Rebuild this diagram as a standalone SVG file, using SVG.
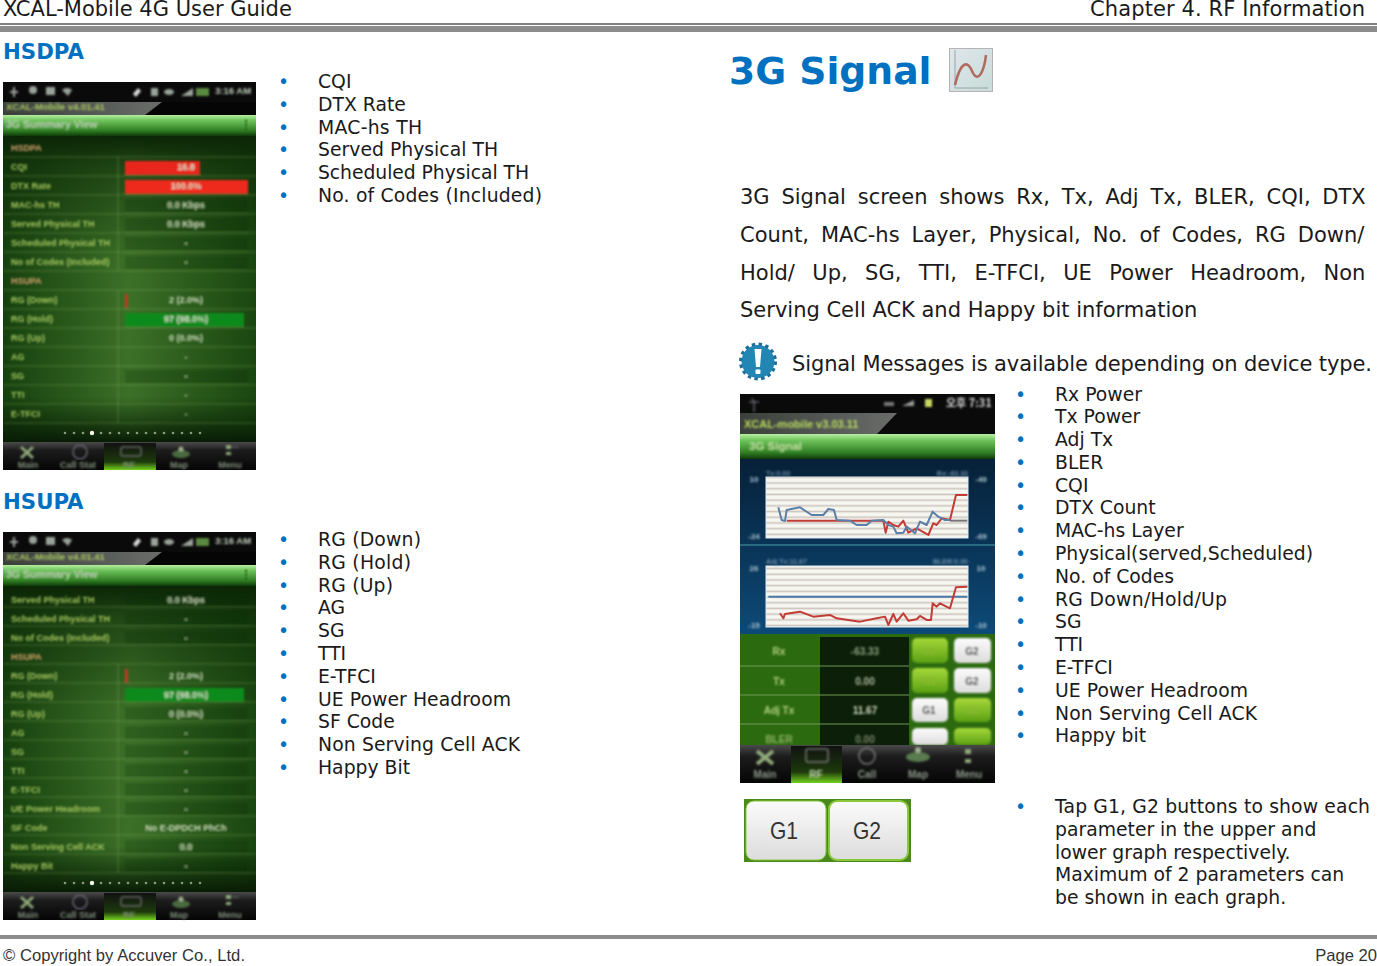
<svg xmlns="http://www.w3.org/2000/svg" width="1377" height="966" viewBox="0 0 1377 966">
<style>
text{font-family:"DejaVu Sans",sans-serif;font-size:18.800px;fill:#1a1a1a}
text.l{font-size:21px}
.h{font-weight:bold;fill:#0070c0}
.b{fill:#0070c0}
text.f{font-family:"Liberation Sans",Arial,sans-serif;font-size:16.600px;fill:#333}
.s text{font-family:"Liberation Sans",Arial,sans-serif;font-size:9px;font-weight:bold;fill:#a8c860}
.s .v{fill:#d4dec4;text-anchor:middle}
.s .o{fill:#d8a070}
.s .w{fill:#c2cfbc}
.s .g{fill:#7f8f7a}
.s .c{text-anchor:middle}
.row{stroke:#8fb86a;stroke-opacity:.35;stroke-width:1;fill:none}
.cell{stroke:#0a2205;stroke-opacity:.22;stroke-width:14;fill:none}
</style>
<defs>
<filter id="soft" x="-5%" y="-5%" width="110%" height="110%"><feGaussianBlur stdDeviation="0.8"/></filter>
<filter id="soft2" x="-5%" y="-5%" width="110%" height="110%"><feGaussianBlur stdDeviation="0.5"/></filter>
<linearGradient id="band" x1="0" y1="0" x2="0" y2="1"><stop offset="0" stop-color="#b6eea0"/><stop offset=".25" stop-color="#6fc45c"/><stop offset=".75" stop-color="#2f7d22"/><stop offset="1" stop-color="#0f3a0a"/></linearGradient>
<linearGradient id="body" x1="0" y1="0" x2="1" y2="0"><stop offset="0" stop-color="#16400e"/><stop offset=".5" stop-color="#3c7028"/><stop offset="1" stop-color="#1a4610"/></linearGradient>
<linearGradient id="shade" x1="0" y1="0" x2="0" y2="1"><stop offset="0" stop-color="#0b2606"/><stop offset=".1" stop-color="#0b2606" stop-opacity=".55"/><stop offset=".4" stop-color="#0b2606" stop-opacity="0"/><stop offset=".85" stop-color="#0b2606" stop-opacity="0"/><stop offset="1" stop-color="#081c05"/></linearGradient>
<linearGradient id="tab" x1="0" y1="0" x2="0" y2="1"><stop offset="0" stop-color="#4a4a4a"/><stop offset=".3" stop-color="#1c1c1c"/><stop offset="1" stop-color="#050505"/></linearGradient>
<linearGradient id="sel" x1="0" y1="0" x2="0" y2="1"><stop offset="0" stop-color="#111"/><stop offset=".7" stop-color="#1d3a0c"/><stop offset="1" stop-color="#74d01e"/></linearGradient>
<linearGradient id="wedge" x1="0" y1="0" x2="1" y2="0"><stop offset="0" stop-color="#3a3f3a"/><stop offset="1" stop-color="#6a6d6a"/></linearGradient>
<linearGradient id="blue" x1="0" y1="0" x2="0" y2="1"><stop offset="0" stop-color="#062038"/><stop offset="1" stop-color="#0d4a78"/></linearGradient>
<linearGradient id="gbtn" x1="0" y1="0" x2="0" y2="1"><stop offset="0" stop-color="#a6d83a"/><stop offset="1" stop-color="#5aa014"/></linearGradient>
<linearGradient id="wbtn" x1="0" y1="0" x2="0" y2="1"><stop offset="0" stop-color="#fbfbfb"/><stop offset="1" stop-color="#dcdcdc"/></linearGradient>
<linearGradient id="icon" x1="0" y1="0" x2="1" y2="1"><stop offset="0" stop-color="#dfe6ec"/><stop offset="1" stop-color="#c8dcd8"/></linearGradient>
<pattern id="stripes" width="10" height="5.700" patternUnits="userSpaceOnUse"><rect width="10" height="5.700" fill="#f7f7f2"/><rect y="3.400" width="10" height="1.700" fill="#cfc6c0"/></pattern>
<g id="shell">
<rect width="253" height="388" fill="#0c2a08"/>
<rect width="253" height="22" fill="#0a0a0a"/>
<rect y="20" width="253" height="13" fill="#050505"/>
<path d="M0 20H159L142 33H0Z" fill="url(#wedge)"/>
<rect y="33" width="253" height="21" fill="url(#band)"/>
<rect y="54" width="253" height="306" fill="url(#body)"/>
<rect y="54" width="253" height="306" fill="url(#shade)"/>
<g fill="#9aa39a" filter="url(#soft)">
<path d="M10 5h2v4h3v2h-3v4h-2v-4h-3v-2h3z"/><circle cx="30" cy="8" r="4"/><rect x="43" y="5" width="9" height="8"/><path d="M59 8a7 7 0 0 1 10 0l-4 6z"/>
<path d="M130 12l5-6 3 3-5 6z" fill="#ddd"/><rect x="148" y="6" width="7" height="8"/><ellipse cx="166" cy="10" rx="5" ry="3"/><path d="M178 14l12-8v8z"/><rect x="193" y="6" width="13" height="8" fill="#5a8a40"/>
</g>
<g filter="url(#soft)"><circle cx="243" cy="39" r="1.300" fill="#2b5a1c"/><circle cx="243" cy="43" r="1.300" fill="#2b5a1c"/><circle cx="243" cy="47" r="1.300" fill="#2b5a1c"/></g>
<rect y="360" width="253" height="28" fill="url(#tab)"/>
<rect x="101" y="361" width="52" height="27" fill="url(#sel)"/>
</g>
<g id="tabs" filter="url(#soft)">
<path d="M18 365l12 11M30 365l-12 11" stroke="#8fa878" stroke-width="3"/>
<circle cx="77" cy="370" r="7" fill="none" stroke="#667" stroke-width="1.500"/>
<rect x="118" y="365" width="20" height="9" rx="2" fill="none" stroke="#666" stroke-width="1.500"/>
<ellipse cx="178" cy="372" rx="9" ry="4" fill="#4a6a40"/><circle cx="178" cy="367" r="2.500" fill="#a0b090"/>
<rect x="223" y="363" width="5" height="4" fill="#8fa878"/><rect x="223" y="370" width="5" height="3" fill="#8fa878"/><path d="M229 365h7" stroke="#666"/>
</g>
<g id="dots" fill="#8a9a80" filter="url(#soft2)"><circle cx="62" r="1.300"/><circle cx="71" r="1.300"/><circle cx="80" r="1.300"/><circle cx="98" r="1.300"/><circle cx="107" r="1.300"/><circle cx="116" r="1.300"/><circle cx="125" r="1.300"/><circle cx="134" r="1.300"/><circle cx="143" r="1.300"/><circle cx="152" r="1.300"/><circle cx="161" r="1.300"/><circle cx="170" r="1.300"/><circle cx="179" r="1.300"/><circle cx="188" r="1.300"/><circle cx="197" r="1.300"/><circle cx="89" r="2.200" fill="#f4f4ea"/></g>
</defs>

<rect width="1377" height="966" fill="#fff"/>

<g id="page-frame">
<rect x="0" y="23" width="1377" height="2" fill="#808080"/>
<rect x="0" y="26" width="1377" height="6" fill="#8c8c8c"/>
<rect x="0" y="935" width="1377" height="4" fill="#8c8c8c"/>
<text class="l" x="3" y="16">XCAL-Mobile 4G User Guide</text>
<text class="l" x="1090" y="16" textLength="275">Chapter 4. RF Information</text>
<text class="f" x="3" y="961" textLength="242">© Copyright by Accuver Co., Ltd.</text>
<text class="f" x="1377" y="961" text-anchor="end">Page 20</text>
</g>

<g id="hsdpa-section">
<text class="h" x="3" y="59" style="font-size:21.300px">HSDPA</text>
<g class="s" transform="translate(3,82)">
<use href="#shell"/>
<g filter="url(#soft)">
<path class="cell" d="M122 124H245M122 143H245M122 162H245M122 181H245M122 295H245"/>
<path class="row" d="M0 75H253M0 94H253M0 113H253M0 132H253M0 151H253M0 170H253M0 189H253M0 208H253M0 227H253M0 246H253M0 265H253M0 284H253M0 303H253M0 322H253M0 341H253M115 75V189M115 208V341"/>
<rect x="122" y="79" width="75" height="14" fill="#e8281c"/>
<rect x="122" y="98" width="123" height="14" fill="#ee2a1a"/>
<rect x="122" y="212" width="3" height="14" fill="#c03a20"/>
<rect x="122" y="231" width="119" height="14" fill="#0d8a1c"/>
<text style="font-size:9.500px" x="3" y="28">XCAL-Mobile v4.01.41</text>
<text x="3" y="46" class="w" style="font-size:10.500px">3G Summary View</text>
<text class="w" x="212" y="12" style="font-size:9.500px">3:16 AM</text>
<text class="o" x="8" y="69">HSDPA</text>
<text x="8" y="88">CQI</text><text class="v" x="183" y="88">16.8</text>
<text x="8" y="107">DTX Rate</text><text class="v" x="183" y="107">100.0%</text>
<text x="8" y="126">MAC-hs TH</text><text class="v" x="183" y="126">0.0 Kbps</text>
<text x="8" y="145">Served Physical TH</text><text class="v" x="183" y="145">0.0 Kbps</text>
<text x="8" y="164">Scheduled Physical TH</text><text class="v" x="183" y="164">-</text>
<text x="8" y="183">No of Codes (Included)</text><text class="v" x="183" y="183">-</text>
<text class="o" x="8" y="202">HSUPA</text>
<text x="8" y="221">RG (Down)</text><text class="v" x="183" y="221">2 (2.0%)</text>
<text x="8" y="240">RG (Hold)</text><text class="v" x="183" y="240">97 (98.0%)</text>
<text x="8" y="259">RG (Up)</text><text class="v" x="183" y="259">0 (0.0%)</text>
<text x="8" y="278">AG</text><text class="v" x="183" y="278">-</text>
<text x="8" y="297">SG</text><text class="v" x="183" y="297">-</text>
<text x="8" y="316">TTI</text><text class="v" x="183" y="316">-</text>
<text x="8" y="335">E-TFCI</text><text class="v" x="183" y="335">-</text>
<text class="g c" x="25" y="386">Main</text><text class="g c" x="75" y="386">Call Stat</text><text class="g c" x="126" y="386">RF</text><text class="g c" x="176" y="386">Map</text><text class="g c" x="227" y="386">Menu</text>
</g>
<use href="#tabs"/>
<use href="#dots" y="351"/>
</g>
<g id="hsdpa-list">
<text class="b" x="278" y="88">•</text><text x="318" y="88">CQI</text>
<text class="b" x="278" y="111">•</text><text x="318" y="111">DTX Rate</text>
<text class="b" x="278" y="134">•</text><text x="318" y="134" textLength="104">MAC-hs TH</text>
<text class="b" x="278" y="156">•</text><text x="318" y="156" textLength="180">Served Physical TH</text>
<text class="b" x="278" y="179">•</text><text x="318" y="179" textLength="211">Scheduled Physical TH</text>
<text class="b" x="278" y="202">•</text><text x="318" y="202" textLength="224">No. of Codes (Included)</text>
</g>
</g>

<g id="hsupa-section">
<text class="h" x="3" y="509" style="font-size:21.300px">HSUPA</text>
<g class="s" transform="translate(3,532)">
<use href="#shell"/>
<g filter="url(#soft)">
<path class="cell" d="M122 68H245M122 87H245M122 106H245M122 182H245M122 201H245M122 220H245M122 239H245M122 258H245M122 277H245M122 315H245M122 334H245"/>
<path class="row" d="M0 75H253M0 94H253M0 113H253M0 132H253M0 151H253M0 170H253M0 189H253M0 208H253M0 227H253M0 246H253M0 265H253M0 284H253M0 303H253M0 322H253M0 341H253M115 132V341"/>
<rect x="122" y="137" width="3" height="14" fill="#c03a20"/>
<rect x="122" y="156" width="119" height="14" fill="#0d8a1c"/>
<text style="font-size:9.500px" x="3" y="28">XCAL-Mobile v4.01.41</text>
<text x="3" y="46" class="w" style="font-size:10.500px">3G Summary View</text>
<text class="w" x="212" y="12" style="font-size:9.500px">3:16 AM</text>
<text x="8" y="71">Served Physical TH</text><text class="v" x="183" y="71">0.0 Kbps</text>
<text x="8" y="90">Scheduled Physical TH</text><text class="v" x="183" y="90">-</text>
<text x="8" y="109">No of Codes (Included)</text><text class="v" x="183" y="109">-</text>
<text class="o" x="8" y="128">HSUPA</text>
<text x="8" y="147">RG (Down)</text><text class="v" x="183" y="147">2 (2.0%)</text>
<text x="8" y="166">RG (Hold)</text><text class="v" x="183" y="166">97 (98.0%)</text>
<text x="8" y="185">RG (Up)</text><text class="v" x="183" y="185">0 (0.0%)</text>
<text x="8" y="204">AG</text><text class="v" x="183" y="204">-</text>
<text x="8" y="223">SG</text><text class="v" x="183" y="223">-</text>
<text x="8" y="242">TTI</text><text class="v" x="183" y="242">-</text>
<text x="8" y="261">E-TFCI</text><text class="v" x="183" y="261">-</text>
<text x="8" y="280">UE Power Headroom</text><text class="v" x="183" y="280">-</text>
<text x="8" y="299">SF Code</text><text class="v" x="183" y="299">No E-DPDCH PhCh</text>
<text x="8" y="318">Non Serving Cell ACK</text><text class="v" x="183" y="318">0.0</text>
<text x="8" y="337">Happy Bit</text><text class="v" x="183" y="337">-</text>
<text class="g c" x="25" y="386">Main</text><text class="g c" x="75" y="386">Call Stat</text><text class="g c" x="126" y="386">RF</text><text class="g c" x="176" y="386">Map</text><text class="g c" x="227" y="386">Menu</text>
</g>
<use href="#tabs"/>
<use href="#dots" y="351"/>
</g>
<g id="hsupa-list">
<text class="b" x="278" y="546">•</text><text x="318" y="546" textLength="103">RG (Down)</text>
<text class="b" x="278" y="569">•</text><text x="318" y="569" textLength="93">RG (Hold)</text>
<text class="b" x="278" y="592">•</text><text x="318" y="592" textLength="75">RG (Up)</text>
<text class="b" x="278" y="614">•</text><text x="318" y="614">AG</text>
<text class="b" x="278" y="637">•</text><text x="318" y="637">SG</text>
<text class="b" x="278" y="660">•</text><text x="318" y="660">TTI</text>
<text class="b" x="278" y="683">•</text><text x="318" y="683">E-TFCI</text>
<text class="b" x="278" y="706">•</text><text x="318" y="706" textLength="193">UE Power Headroom</text>
<text class="b" x="278" y="728">•</text><text x="318" y="728">SF Code</text>
<text class="b" x="278" y="751">•</text><text x="318" y="751" textLength="202">Non Serving Cell ACK</text>
<text class="b" x="278" y="774">•</text><text x="318" y="774">Happy Bit</text>
</g>
</g>

<g id="signal-heading">
<text class="h" x="729" y="84" style="font-size:37.700px">3G Signal</text>
<g id="signal-icon">
<rect x="949.500" y="48.500" width="43" height="43" fill="url(#icon)" stroke="#b4b4b4"/>
<path d="M955 50V88H988" fill="none" stroke="#9aa4a8" filter="url(#soft2)"/>
<path d="M955 85C961 60 968 60 973 73C978 83 984 72 986 55" fill="none" stroke="#b06a60" stroke-width="2.500" filter="url(#soft2)"/>
</g>
</g>

<g id="signal-text">
<text class="l" x="740" y="204" word-spacing="5.100">3G Signal screen shows Rx, Tx, Adj Tx, BLER, CQI, DTX</text>
<text class="l" x="740" y="242" word-spacing="5.250">Count, MAC-hs Layer, Physical, No. of Codes, RG Down/</text>
<text class="l" x="740" y="280" word-spacing="10.750">Hold/ Up, SG, TTI, E-TFCI, UE Power Headroom, Non</text>
<text class="l" x="740" y="317">Serving Cell ACK and Happy bit information</text>
<g id="note-icon">
<g filter="url(#soft2)">
<circle cx="758" cy="361.500" r="16.500" fill="#2486b4"/>
<circle cx="758" cy="361.500" r="17.500" fill="none" stroke="#1a6d98" stroke-width="3" stroke-dasharray="3.440 3.440"/>
</g>
<path d="M754.500 349H761.500L760 367H756Z" fill="#fff"/><rect x="755.500" y="369.500" width="5" height="4.500" rx="1" fill="#fff"/>
</g>
<text class="l" x="792" y="371" textLength="580">Signal Messages is available depending on device type.</text>
</g>

<g id="signal-phone" class="s">
<rect x="740" y="394" width="255" height="389" fill="#0a0a0a"/>
<path d="M740 413H897L877 434H740Z" fill="url(#wedge)"/>
<rect x="740" y="434" width="255" height="25" fill="url(#band)"/>
<rect x="740" y="459" width="255" height="175" fill="url(#blue)"/>
<rect x="740" y="544" width="255" height="2" fill="#2a6a80"/>
<g filter="url(#soft2)">
<rect x="766" y="477" width="202" height="61" fill="url(#stripes)" stroke="#dfe8ee"/>
<rect x="766" y="566" width="202" height="61" fill="url(#stripes)" stroke="#dfe8ee"/>
<g transform="translate(730,390) scale(.3333)" fill="none" stroke-width="6" stroke-linejoin="round">
<path d="M660 392H712" stroke="#777"/>
<path d="M170 392H460L467 428 475 395 490 405 505 410 520 392 535 428 560 415 595 435 610 400 620 405 635 385 660 390 678 315H712" stroke="#c23a34"/>
<path d="M145 352L155 390 165 393 170 360 210 352 245 375 280 375 295 357 312 360 320 390 360 392 380 405 410 405 425 392 460 390 475 405 490 410 500 430 520 428 530 410 555 430 570 395 590 405 608 365 625 380 645 390 660 390" stroke="#5a80a8"/>
<path d="M115 620H712" stroke="#4a78a8"/>
<path d="M150 670L160 685 165 672 210 665 250 680 300 675 320 685 390 695 440 685 465 680 475 705 490 672 500 695 520 670 535 692 560 688 570 678 590 690 603 690 608 640 620 650 630 640 660 655 678 592 712 590" stroke="#c23a34"/>
</g>
</g>
<rect x="740" y="634" width="255" height="111" fill="#2c6a10"/>
<rect x="820" y="637" width="89" height="108" fill="#0c1f08"/>
<path d="M740 666H909M740 695H909M740 724H909" stroke="#6f9a55" stroke-width="1"/>
<g filter="url(#soft)">
<rect x="912" y="638" width="36" height="25" rx="5" fill="url(#gbtn)"/><rect x="954" y="638" width="37" height="25" rx="5" fill="url(#wbtn)"/>
<rect x="912" y="668" width="36" height="25" rx="5" fill="url(#gbtn)"/><rect x="954" y="668" width="37" height="25" rx="5" fill="url(#wbtn)"/>
<rect x="912" y="698" width="36" height="24" rx="5" fill="url(#wbtn)"/><rect x="954" y="698" width="37" height="24" rx="5" fill="url(#gbtn)"/>
<rect x="912" y="728" width="36" height="17" rx="5" fill="url(#wbtn)"/><rect x="954" y="728" width="37" height="17" rx="5" fill="url(#gbtn)"/>
<path d="M752 398l2 4v10M749 402h10" stroke="#889" fill="none"/>
<path d="M884 406h10v-4h-10z" fill="#777"/><path d="M902 406l12-6v6z" fill="#999"/><rect x="925" y="399" width="7" height="8" fill="#c8d860"/>
<text x="744" y="428" style="font-size:11px;fill:#b8dc60">XCAL-mobile v3.03.11</text>
<text x="749" y="450" style="font-size:11.500px;fill:#c8e0a8">3G Signal</text>
<text x="946" y="407" style="font-size:11px;fill:#d8d8d8;font-family:'Noto Sans CJK KR','Liberation Sans',sans-serif">오후 7:31</text>
<text x="766" y="476" style="font-size:7px;fill:#6a8aa0">Tx:0.00</text><text x="968" y="476" style="font-size:7px;fill:#6a8aa0;text-anchor:end">Rx:-63.33</text>
<text x="766" y="564" style="font-size:7px;fill:#6a8aa0">Adj Tx:11.67</text><text x="968" y="564" style="font-size:7px;fill:#6a8aa0;text-anchor:end">BLER:0.00</text>
<text x="754" y="482" style="font-size:8px;fill:#b0c8d0;text-anchor:middle">10</text><text x="981" y="482" style="font-size:8px;fill:#b0c8d0;text-anchor:middle">-49</text>
<text x="754" y="539" style="font-size:8px;fill:#b0c8d0;text-anchor:middle">-24</text><text x="981" y="539" style="font-size:8px;fill:#b0c8d0;text-anchor:middle">-69</text>
<text x="754" y="571" style="font-size:8px;fill:#b0c8d0;text-anchor:middle">26</text><text x="981" y="571" style="font-size:8px;fill:#b0c8d0;text-anchor:middle">10</text>
<text x="754" y="628" style="font-size:8px;fill:#b0c8d0;text-anchor:middle">-15</text><text x="981" y="628" style="font-size:8px;fill:#b0c8d0;text-anchor:middle">-10</text>
<text class="c" x="779" y="655" style="font-size:10px;fill:#b0d080">Rx</text><text class="c" x="865" y="655" style="font-size:10px;fill:#8aa080">-63.33</text>
<text class="c" x="779" y="685" style="font-size:10px;fill:#b0d080">Tx</text><text class="c" x="865" y="685" style="font-size:10px;fill:#b0b8a0">0.00</text>
<text class="c" x="779" y="714" style="font-size:10px;fill:#b0d080">Adj Tx</text><text class="c" x="865" y="714" style="font-size:10px;fill:#d0d8c0">11.67</text>
<text class="c" x="779" y="743" style="font-size:10px;fill:#8ab060">BLER</text><text class="c" x="865" y="743" style="font-size:10px;fill:#78846c">0.00</text>
<text class="c" x="929" y="655" style="font-size:10px;fill:#8ab830">G1</text><text class="c" x="972" y="655" style="font-size:10px;fill:#333">G2</text>
<text class="c" x="929" y="685" style="font-size:10px;fill:#8ab830">G1</text><text class="c" x="972" y="685" style="font-size:10px;fill:#333">G2</text>
<text class="c" x="929" y="714" style="font-size:10px;fill:#333">G1</text><text class="c" x="972" y="714" style="font-size:10px;fill:#8ab830">G2</text>
</g>
<rect x="740" y="745" width="255" height="38" fill="url(#tab)"/>
<rect x="791" y="746" width="51" height="37" fill="url(#sel)"/>
<g filter="url(#soft)">
<path d="M757 751l16 13M773 751l-16 13" stroke="#8fa878" stroke-width="4"/>
<rect x="806" y="749" width="22" height="13" rx="2" fill="none" stroke="#777" stroke-width="1.500"/>
<circle cx="867" cy="756" r="8" fill="none" stroke="#777" stroke-width="1.500"/>
<ellipse cx="918" cy="757" rx="12" ry="5" fill="#5a7a50"/><circle cx="918" cy="750" r="3" fill="#a0b090"/>
<rect x="965" y="749" width="6" height="5" fill="#8fa878"/><rect x="965" y="759" width="6" height="4" fill="#8fa878"/>
<text class="c" x="765" y="778" style="font-size:10px;fill:#8a9888">Main</text><text class="c" x="816" y="778" style="font-size:10px;fill:#c8d8b8">RF</text><text class="c" x="867" y="778" style="font-size:10px;fill:#8a9888">Call</text><text class="c" x="918" y="778" style="font-size:10px;fill:#8a9888">Map</text><text class="c" x="969" y="778" style="font-size:10px;fill:#8a9888">Menu</text>
</g>
</g>

<g id="signal-list">
<text class="b" x="1015" y="401">•</text><text x="1055" y="401">Rx Power</text>
<text class="b" x="1015" y="423">•</text><text x="1055" y="423">Tx Power</text>
<text class="b" x="1015" y="446">•</text><text x="1055" y="446">Adj Tx</text>
<text class="b" x="1015" y="469">•</text><text x="1055" y="469">BLER</text>
<text class="b" x="1015" y="492">•</text><text x="1055" y="492">CQI</text>
<text class="b" x="1015" y="514">•</text><text x="1055" y="514">DTX Count</text>
<text class="b" x="1015" y="537">•</text><text x="1055" y="537">MAC-hs Layer</text>
<text class="b" x="1015" y="560">•</text><text x="1055" y="560" textLength="258">Physical(served,Scheduled)</text>
<text class="b" x="1015" y="583">•</text><text x="1055" y="583">No. of Codes</text>
<text class="b" x="1015" y="606">•</text><text x="1055" y="606" textLength="172">RG Down/Hold/Up</text>
<text class="b" x="1015" y="628">•</text><text x="1055" y="628">SG</text>
<text class="b" x="1015" y="651">•</text><text x="1055" y="651">TTI</text>
<text class="b" x="1015" y="674">•</text><text x="1055" y="674">E-TFCI</text>
<text class="b" x="1015" y="697">•</text><text x="1055" y="697" textLength="193">UE Power Headroom</text>
<text class="b" x="1015" y="720">•</text><text x="1055" y="720" textLength="202">Non Serving Cell ACK</text>
<text class="b" x="1015" y="742">•</text><text x="1055" y="742">Happy bit</text>
</g>

<g id="g1-g2-buttons">
<rect x="744" y="799" width="167" height="63" fill="#4a8a1c"/>
<g filter="url(#soft2)">
<rect x="746" y="801" width="80" height="59" rx="8" fill="url(#wbtn)" stroke="#8ac83a"/>
<rect x="829" y="801" width="79" height="59" rx="8" fill="url(#wbtn)" stroke="#8ac83a" stroke-width="2"/>
</g>
<text x="770" y="839" textLength="28" lengthAdjust="spacingAndGlyphs" style="font-size:24px;font-family:'Liberation Sans',sans-serif;fill:#333">G1</text>
<text x="853" y="839" textLength="28" lengthAdjust="spacingAndGlyphs" style="font-size:24px;font-family:'Liberation Sans',sans-serif;fill:#333">G2</text>
</g>
<g id="g1-g2-note">
<text class="b" x="1015" y="813">•</text><text x="1055" y="813" textLength="315">Tap G1, G2 buttons to show each</text>
<text x="1055" y="836">parameter in the upper and</text>
<text x="1055" y="859">lower graph respectively.</text>
<text x="1055" y="881">Maximum of 2 parameters can</text>
<text x="1055" y="904">be shown in each graph.</text>
</g>
</svg>
